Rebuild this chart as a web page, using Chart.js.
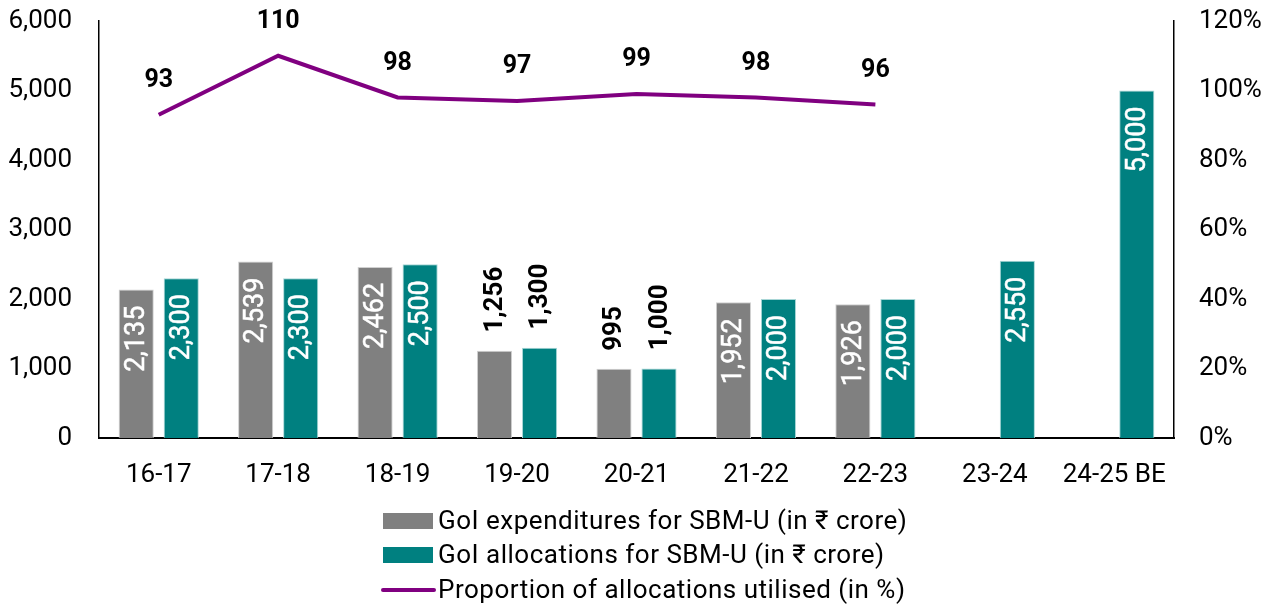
<!DOCTYPE html>
<html>
<head>
<meta charset="utf-8">
<script src="https://cdn.jsdelivr.net/npm/chart.js@4.4.1/dist/chart.umd.min.js"></script>
<style>
  html, body { margin: 0; padding: 0; background: #fff; }
  #wrap { width: 1273px; height: 607px; }
</style>
</head>
<body>
<div id="wrap"><canvas id="grafico" width="1273" height="607"></canvas></div>
<script>
const categorias = ['16-17', '17-18', '18-19', '19-20', '20-21', '21-22', '22-23', '23-24', '24-25 BE'];
const gastos = [2135, 2539, 2462, 1256, 995, 1952, 1926, null, null];
const asignaciones = [2300, 2300, 2500, 1300, 1000, 2000, 2000, 2550, 5000];
const proporcion = [93, 110, 98, 97, 99, 98, 96, null, null];
const etiquetasSerie = [
    'GoI expenditures for SBM-U (in \u20B9 crore)',
    'GoI allocations for SBM-U (in \u20B9 crore)',
    'Proportion of allocations utilised (in %)'
];

const GRIS = '#808080';
const VERDE = '#008080';
const MORADO = '#800080';
const FUENTE = 'Roboto, "Liberation Sans", sans-serif';

const fmt = v => v.toLocaleString('en-US');

// etiquetas de barras y de la línea
const etiquetas = {
    id: 'etiquetas',
    afterDatasetsDraw(chart) {
        const ctx = chart.ctx;
        [0, 1].forEach(di => {
            const meta = chart.getDatasetMeta(di);
            const datos = chart.data.datasets[di].data;
            meta.data.forEach((bar, i) => {
                const v = datos[i];
                if (v == null) return;
                ctx.save();
                ctx.translate(bar.x, bar.y);
                ctx.rotate(-Math.PI / 2);
                ctx.textBaseline = 'middle';
                if (v < 1500) {
                    ctx.font = 'bold 26px ' + FUENTE;
                    ctx.fillStyle = '#000';
                    ctx.textAlign = 'left';
                    ctx.fillText(fmt(v), 18, 1);
                } else {
                    ctx.font = '27px ' + FUENTE;
                    ctx.fillStyle = '#fff';
                    ctx.strokeStyle = '#fff';
                    ctx.lineWidth = 0.5;
                    ctx.textAlign = 'right';
                    ctx.fillText(fmt(v), -16, 1);
                    ctx.strokeText(fmt(v), -16, 1);
                }
                ctx.restore();
            });
        });
        const metaL = chart.getDatasetMeta(2);
        ctx.save();
        ctx.font = 'bold 25px ' + FUENTE;
        ctx.fillStyle = '#000';
        ctx.textAlign = 'center';
        ctx.textBaseline = 'middle';
        metaL.data.forEach((p, i) => {
            if (proporcion[i] == null) return;
            ctx.fillText(proporcion[i], p.x, p.y - 34);
        });
        ctx.restore();
    }
};

// leyenda vertical debajo del gráfico
const leyenda = {
    id: 'leyenda',
    afterDraw(chart) {
        const ctx = chart.ctx;
        const x0 = 383;
        const filas = [521, 555, 590];
        ctx.save();
        ctx.font = '26px ' + FUENTE;
        ctx.letterSpacing = '0.5px';
        ctx.textBaseline = 'middle';
        ctx.textAlign = 'left';
        ctx.fillStyle = GRIS;
        ctx.fillRect(x0, filas[0] - 8, 50, 16);
        ctx.fillStyle = VERDE;
        ctx.fillRect(x0, filas[1] - 8, 50, 16);
        ctx.strokeStyle = MORADO;
        ctx.lineWidth = 4;
        ctx.lineCap = 'round';
        ctx.beginPath();
        ctx.moveTo(x0, filas[2]);
        ctx.lineTo(x0 + 51, filas[2]);
        ctx.stroke();
        ctx.fillStyle = '#000';
        etiquetasSerie.forEach((t, i) => ctx.fillText(t, x0 + 55, filas[i] + 1));
        ctx.restore();
    }
};

function ajustarVertical(s) {
    s.width = 99;
    s.paddingTop = 0;
    s.paddingBottom = 0;
}

const ctx = document.getElementById('grafico').getContext('2d');
const chart = new Chart(ctx, {
    data: {
        labels: categorias,
        datasets: [
            {
                type: 'bar',
                label: etiquetasSerie[0],
                data: gastos,
                backgroundColor: GRIS,
                borderColor: '#d0d0d0',
                borderWidth: 1,
                yAxisID: 'y',
                order: 2
            },
            {
                type: 'bar',
                label: etiquetasSerie[1],
                data: asignaciones,
                backgroundColor: VERDE,
                borderColor: '#a8d6d6',
                borderWidth: 1,
                yAxisID: 'y',
                order: 2
            },
            {
                type: 'line',
                label: etiquetasSerie[2],
                data: proporcion,
                borderColor: MORADO,
                borderWidth: 4,
                pointRadius: 0,
                tension: 0,
                yAxisID: 'y1',
                order: 1
            }
        ]
    },
    options: {
        responsive: false,
        animation: false,
        layout: { padding: { top: 21, left: 0, right: 0, bottom: 0 } },
        datasets: {
            bar: { categoryPercentage: 0.754, barPercentage: 0.78 }
        },
        plugins: {
            legend: { display: false },
            tooltip: { enabled: false }
        },
        scales: {
            x: {
                grid: { display: false, drawTicks: false },
                border: { display: true, color: '#000', width: 2 },
                ticks: { color: '#000', font: { family: FUENTE, size: 26 }, padding: 22, maxRotation: 0 },
                afterFit(s) { s.height = 169; s.paddingLeft = 0; s.paddingRight = 0; }
            },
            y: {
                position: 'left',
                min: 0,
                max: 6000,
                grid: { display: false, drawTicks: false },
                border: { display: true, color: '#000', width: 1.5 },
                ticks: {
                    stepSize: 1000,
                    color: '#000',
                    padding: 27,
                    font: { family: FUENTE, size: 26 },
                    callback: v => fmt(v)
                },
                afterFit: ajustarVertical
            },
            y1: {
                position: 'right',
                min: 0,
                max: 120,
                grid: { display: false, drawTicks: false },
                border: { display: true, color: '#000', width: 1.5 },
                ticks: {
                    stepSize: 20,
                    color: '#000',
                    padding: 25,
                    font: { family: FUENTE, size: 26 },
                    callback: v => v + '%'
                },
                afterFit: ajustarVertical
            }
        }
    },
    plugins: [etiquetas, leyenda]
});
</script>
</body>
</html>
